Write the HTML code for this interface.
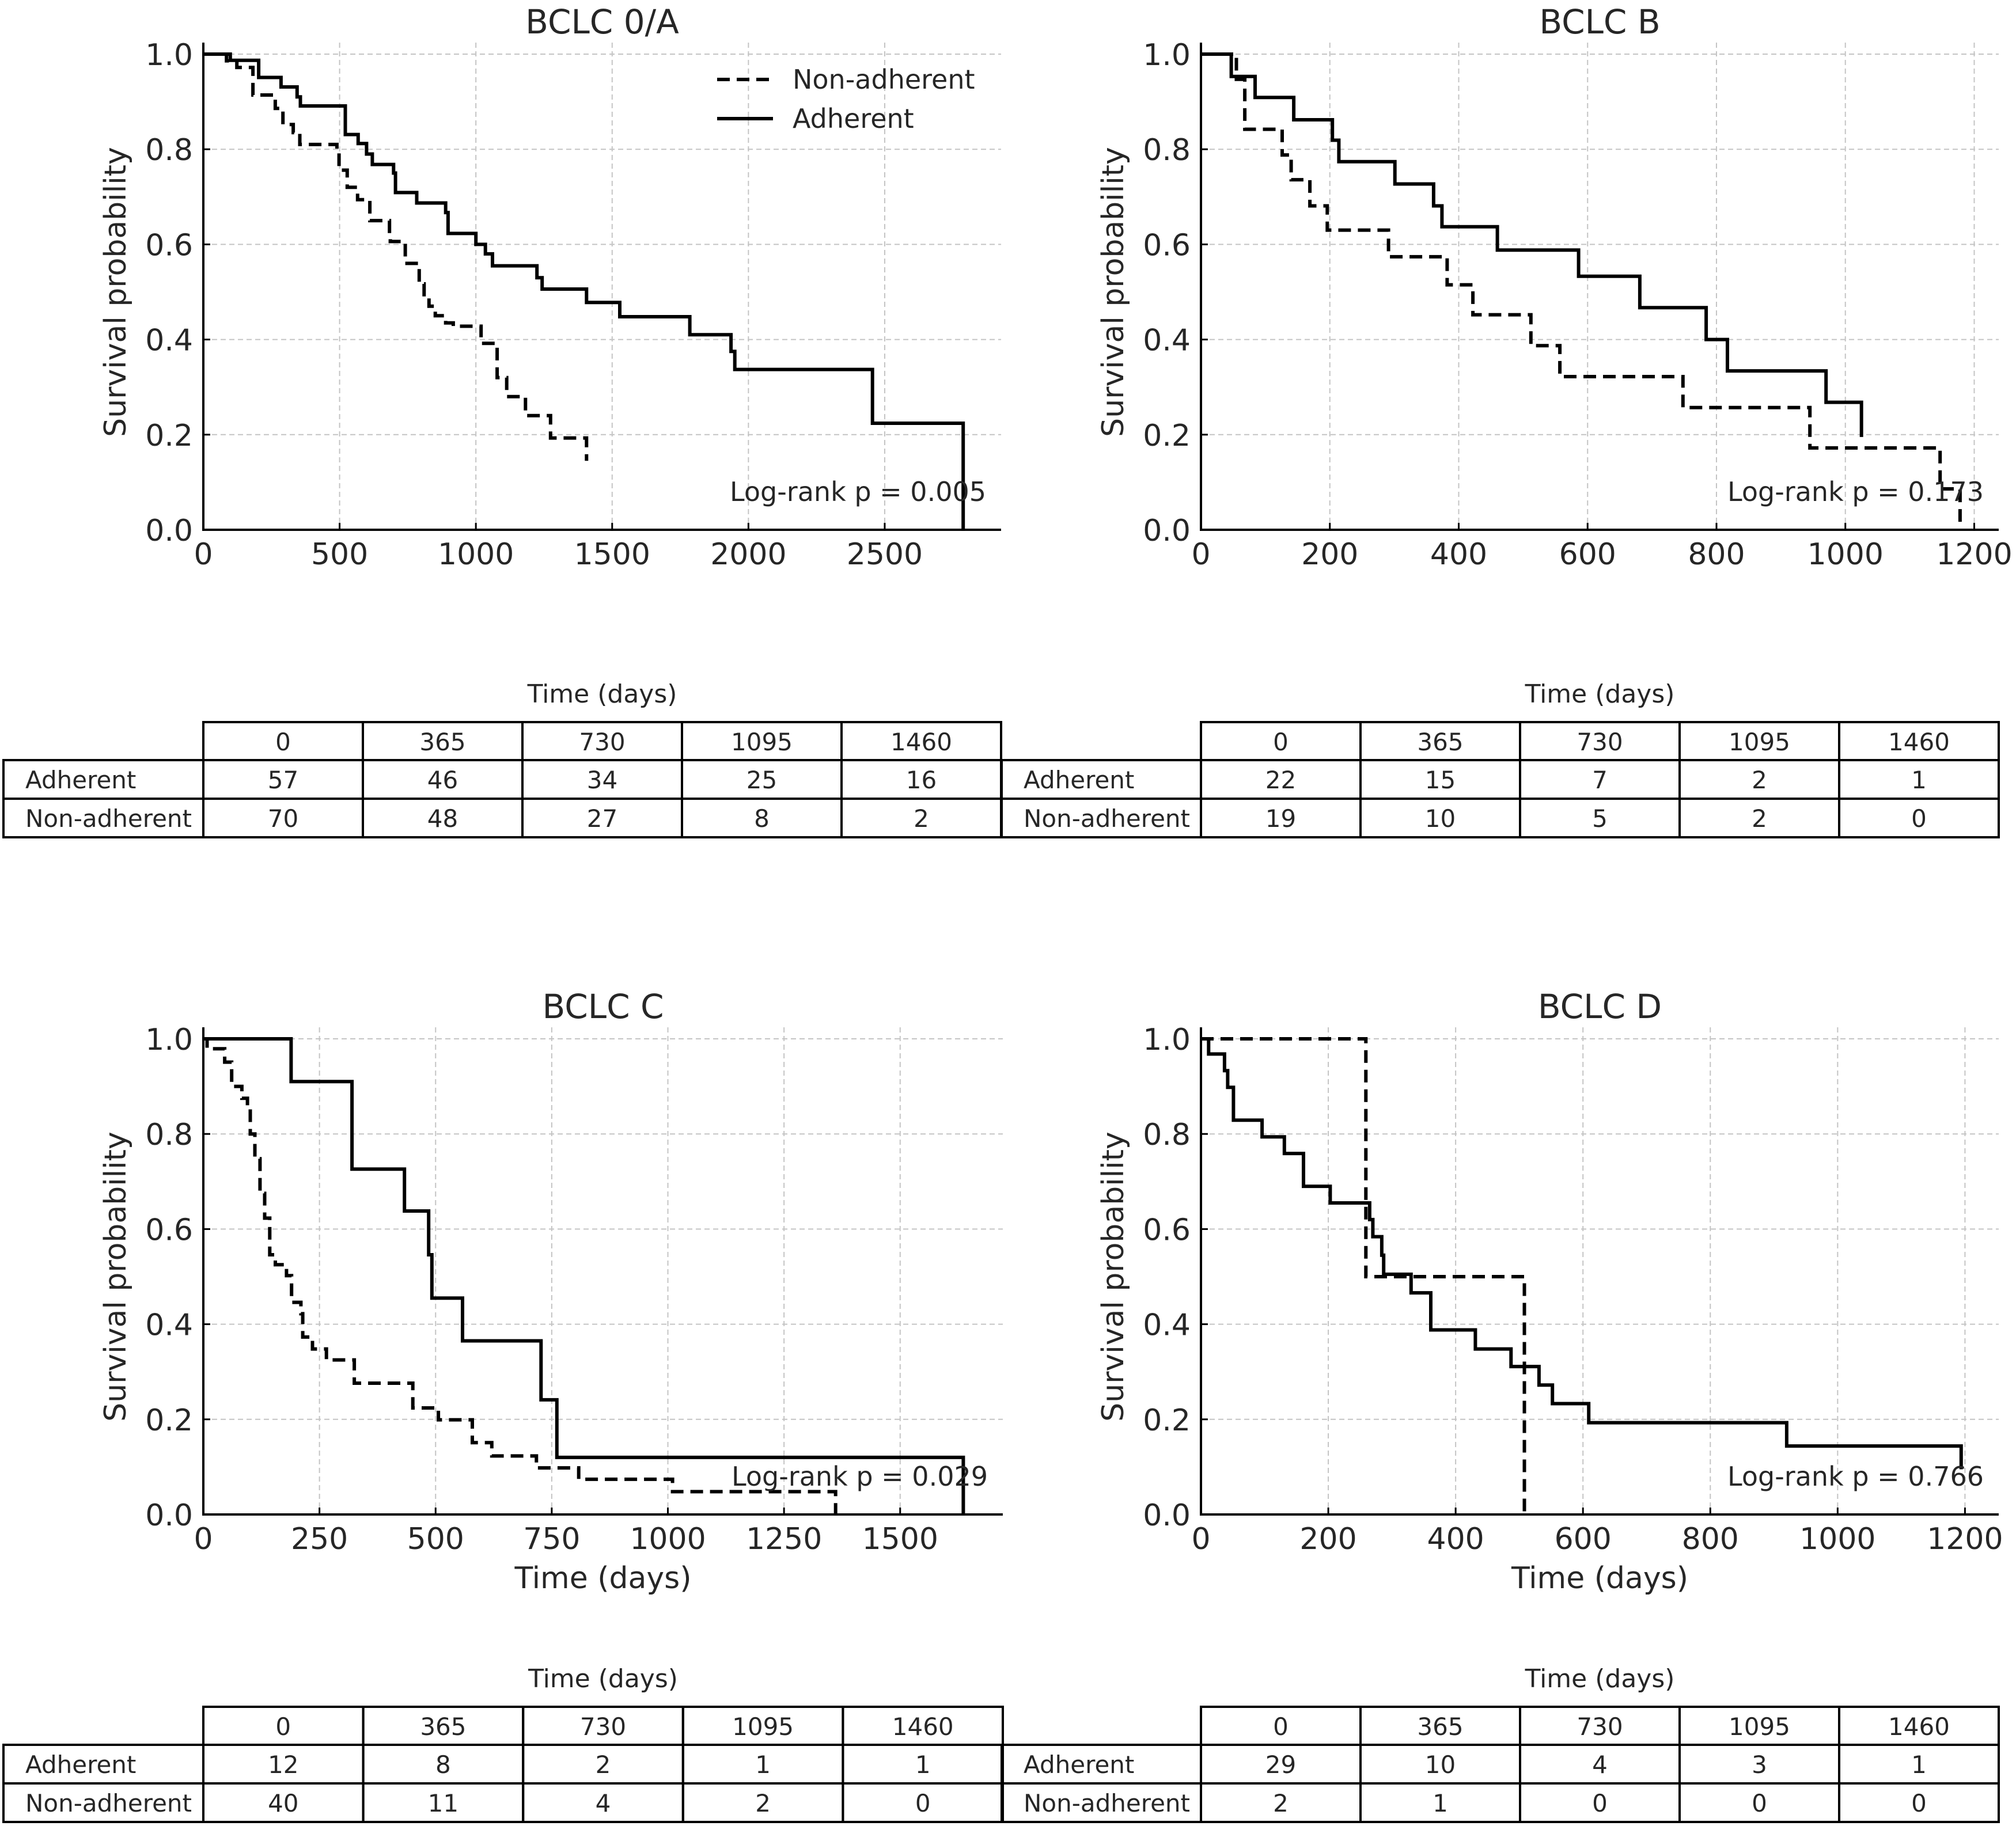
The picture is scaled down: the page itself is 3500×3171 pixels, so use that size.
<!DOCTYPE html>
<html><head><meta charset="utf-8">
<style>
html,body{margin:0;padding:0;background:#fff;}
svg{display:block;font-family:"DejaVu Sans","Liberation Sans",sans-serif;}
</style></head>
<body>
<svg id="fig" width="3500" height="3171" viewBox="0 0 3500 3171" xmlns="http://www.w3.org/2000/svg"></svg>
<script>
// ---- Data ----
const panelTitles = ["BCLC 0/A","BCLC B","BCLC C","BCLC D"];
const pValues = ["0.005","0.173","0.029","0.766"];
const xTicksA = [0,500,1000,1500,2000,2500];
const xTicksB = [0,200,400,600,800,1000,1200];
const xTicksC = [0,250,500,750,1000,1250,1500];
const xTicksD = [0,200,400,600,800,1000,1200];
const yTicks = [0,0.2,0.4,0.6,0.8,1.0];
const tableTimes = [0,365,730,1095,1460];

const adhTimesA = [99,203,285,344,356,521,568,599,620,698,705,783,889,898,1000,1035,1061,1224,1243,1406,1528,1785,1936,1950,2455,2788];
const adhSurvA  = [0.987,0.951,0.931,0.91,0.891,0.831,0.812,0.79,0.768,0.75,0.709,0.687,0.667,0.623,0.60,0.58,0.555,0.53,0.506,0.478,0.448,0.41,0.375,0.337,0.224,0];
const nonTimesA = [85,123,182,264,292,330,354,490,498,528,566,611,683,686,741,792,810,828,851,889,917,1019,1078,1113,1182,1274,1406];
const nonSurvA  = [0.986,0.972,0.914,0.886,0.852,0.835,0.81,0.795,0.756,0.72,0.694,0.65,0.62,0.606,0.56,0.517,0.49,0.47,0.45,0.435,0.428,0.392,0.32,0.28,0.24,0.193,0.145];

const adhTimesB = [47,84,144,204,214,301,361,374,460,586,681,784,817,970,1025];
const adhSurvB  = [0.953,0.909,0.862,0.819,0.774,0.727,0.681,0.637,0.588,0.533,0.467,0.40,0.334,0.268,0.195];
const nonTimesB = [55,68,126,140,169,196,291,382,422,512,557,748,945,1147,1178];
const nonSurvB  = [0.947,0.842,0.788,0.736,0.681,0.63,0.574,0.515,0.452,0.387,0.322,0.257,0.172,0.086,0];

const adhTimesC = [189,320,433,485,492,558,727,761,1636];
const adhSurvC  = [0.910,0.726,0.638,0.546,0.455,0.365,0.241,0.12,0];
const nonTimesC = [8,46,61,83,95,101,111,122,132,143,155,179,190,210,214,235,265,325,451,506,579,621,717,808,1010,1361];
const nonSurvC  = [0.979,0.951,0.90,0.875,0.853,0.80,0.748,0.675,0.623,0.546,0.525,0.502,0.446,0.422,0.373,0.348,0.325,0.276,0.224,0.199,0.151,0.123,0.098,0.074,0.048,0];

const adhTimesD = [12,37,42,51,96,131,161,203,265,270,284,287,330,361,431,487,531,552,609,920,1194];
const adhSurvD  = [0.968,0.933,0.898,0.829,0.794,0.759,0.69,0.655,0.62,0.584,0.545,0.505,0.466,0.388,0.348,0.311,0.272,0.233,0.193,0.144,0.095];
const nonTimesD = [259,508];
const nonSurvD  = [0.5,0];

const adhAtRiskA=[57,46,34,25,16], nonAtRiskA=[70,48,27,8,2];
const adhAtRiskB=[22,15,7,2,1],    nonAtRiskB=[19,10,5,2,0];
const adhAtRiskC=[12,8,2,1,1],     nonAtRiskC=[40,11,4,2,0];
const adhAtRiskD=[29,10,4,3,1],    nonAtRiskD=[2,1,0,0,0];

// ---- Layout ----
const NS="http://www.w3.org/2000/svg";
const fig=document.getElementById('fig');
function mk(tag,attrs,parent,text){const e=document.createElementNS(NS,tag);for(const k in attrs)e.setAttribute(k,attrs[k]);if(text!==undefined)e.textContent=text;(parent||fig).appendChild(e);return e;}

const panels=[
 {L:353,R:1738,T:94,B:920,xmax:2927,ticks:xTicksA,adh:[adhTimesA,adhSurvA],non:[nonTimesA,nonSurvA],risk:[adhAtRiskA,nonAtRiskA],tl:6,xl:false,legend:true},
 {L:2085,R:3470,T:94,B:920,xmax:1238,ticks:xTicksB,adh:[adhTimesB,adhSurvB],non:[nonTimesB,nonSurvB],risk:[adhAtRiskB,nonAtRiskB],tl:1739,xl:false},
 {L:353,R:1741,T:1804,B:2630,xmax:1721,ticks:xTicksC,adh:[adhTimesC,adhSurvC],non:[nonTimesC,nonSurvC],risk:[adhAtRiskC,nonAtRiskC],tl:6,xl:true},
 {L:2085,R:3470,T:1804,B:2630,xmax:1253,ticks:xTicksD,adh:[adhTimesD,adhSurvD],non:[nonTimesD,nonSurvD],risk:[adhAtRiskD,nonAtRiskD],tl:1739,xl:true}
];
const TXT="#262626";

panels.forEach((p,i)=>{
  const g=mk('g',{});
  
  
  const xs=t=>p.L+t/p.xmax*(p.R-p.L);
  const ys=s=>p.B-s*(p.B-p.T);
  const cx=(p.L+p.R)/2;
  // grid
  p.ticks.forEach(t=>{const l=mk('line',{x1:xs(t),x2:xs(t),y1:p.T-20,y2:p.B,stroke:'#c4c4c4','stroke-width':2,'stroke-dasharray':'9,6'},g);
    });
  yTicks.forEach(v=>{const l=mk('line',{x1:p.L,x2:p.R,y1:ys(v),y2:ys(v),stroke:'#c4c4c4','stroke-width':2,'stroke-dasharray':'9,6'},g);
    });
  // title
  const tt=mk('text',{x:cx,y:58,'font-size':58,'text-anchor':'middle',fill:TXT},g,panelTitles[i]);
  tt.setAttribute('y',p.T-36);
  
  // curves
  function step(series,dash,name){
    const [ts,ss]=series;let d='M'+xs(0)+','+ys(1);
    ts.forEach((t,k)=>{d+=' H'+xs(t).toFixed(1)+' V'+ys(ss[k]).toFixed(1);});
    const path=mk('path',{d:d,fill:'none',stroke:'#000','stroke-width':6,'stroke-linejoin':'miter'},g);
    if(dash)path.setAttribute('stroke-dasharray','22,12');
    
  }
  step(p.non,true,'non-adherent-curve');
  step(p.adh,false,'adherent-curve');
  // spines
  const sp1=mk('line',{x1:p.L,x2:p.L,y1:p.T-20,y2:p.B+2,stroke:'#000','stroke-width':4},g);
  
  const sp2=mk('line',{x1:p.L-2,x2:p.R,y1:p.B,y2:p.B,stroke:'#000','stroke-width':4},g);
  
  // ticks
  p.ticks.forEach(t=>{
    const tk=mk('line',{x1:xs(t),x2:xs(t),y1:p.B,y2:p.B-12,stroke:'#000','stroke-width':3},g);
    
    const lb=mk('text',{x:xs(t),y:p.B+60,'font-size':52,'text-anchor':'middle',fill:TXT},g,String(t));
    
  });
  yTicks.forEach(v=>{
    const tk=mk('line',{x1:p.L,x2:p.L+12,y1:ys(v),y2:ys(v),stroke:'#000','stroke-width':3},g);
    
    const lb=mk('text',{x:p.L-18,y:ys(v)+19,'font-size':52,'text-anchor':'end',fill:TXT},g,v.toFixed(1));
    
  });
  // y label
  const yl=mk('text',{x:0,y:0,'font-size':52,'text-anchor':'middle',fill:TXT,transform:'translate(222,'+((p.T+p.B)/2)+') rotate(-90)'},g,'Survival probability');
  yl.setAttribute('transform','translate('+(p.L-135)+','+((p.T+p.B)/2)+') rotate(-90)');
  
  if(p.xl){
    const xl=mk('text',{x:cx,y:p.B+128,'font-size':52,'text-anchor':'middle',fill:TXT},g,'Time (days)');
    
  }
  // p-value
  const pv=mk('text',{x:p.R-26,y:p.B-50,'font-size':46,'text-anchor':'end',fill:TXT},g,'Log-rank p = '+pValues[i]);
  
  // legend
  if(p.legend){
    const lg=mk('g',{},g);
    const l1=mk('line',{x1:1245,x2:1342,y1:138,y2:138,stroke:'#000','stroke-width':6,'stroke-dasharray':'22,12'},lg);
    
    const t1=mk('text',{x:1376,y:154,'font-size':46,fill:TXT},lg,'Non-adherent');
    
    const l2=mk('line',{x1:1245,x2:1342,y1:206,y2:206,stroke:'#000','stroke-width':6},lg);
    
    const t2=mk('text',{x:1376,y:222,'font-size':46,fill:TXT},lg,'Adherent');
    
  }
  // at-risk table
  const off=p.T-94;
  const tb=mk('g',{},g);
  const tth=mk('text',{x:cx,y:1220+off,'font-size':44,'text-anchor':'middle',fill:TXT},tb,'Time (days)');
  
  const rows=[1254+off,1320+off,1387+off,1454+off];
  const cw=(p.R-p.L)/5;
  tableTimes.forEach((t,c)=>{
    const r=mk('rect',{x:p.L+c*cw,y:rows[0],width:cw,height:rows[1]-rows[0],fill:'none',stroke:'#000','stroke-width':4},tb);
    
    const tx=mk('text',{x:p.L+c*cw+cw/2,y:rows[0]+49,'font-size':42,'text-anchor':'middle',fill:TXT},tb,String(t));
    
  });
  const labels=['Adherent','Non-adherent'];
  [0,1].forEach(r=>{
    const y0=rows[r+1],h=rows[r+2]-rows[r+1];
    const lc=mk('rect',{x:p.tl,y:y0,width:p.L-p.tl,height:h,fill:'none',stroke:'#000','stroke-width':4},tb);
    
    const lt=mk('text',{x:p.tl+38,y:y0+49,'font-size':42,fill:TXT},tb,labels[r]);
    
    p.risk[r].forEach((v,c)=>{
      const rc=mk('rect',{x:p.L+c*cw,y:y0,width:cw,height:h,fill:'none',stroke:'#000','stroke-width':4},tb);
      
      const vt=mk('text',{x:p.L+c*cw+cw/2,y:y0+49,'font-size':42,'text-anchor':'middle',fill:TXT},tb,String(v));
      
    });
  });
});
</script>
</body></html>
